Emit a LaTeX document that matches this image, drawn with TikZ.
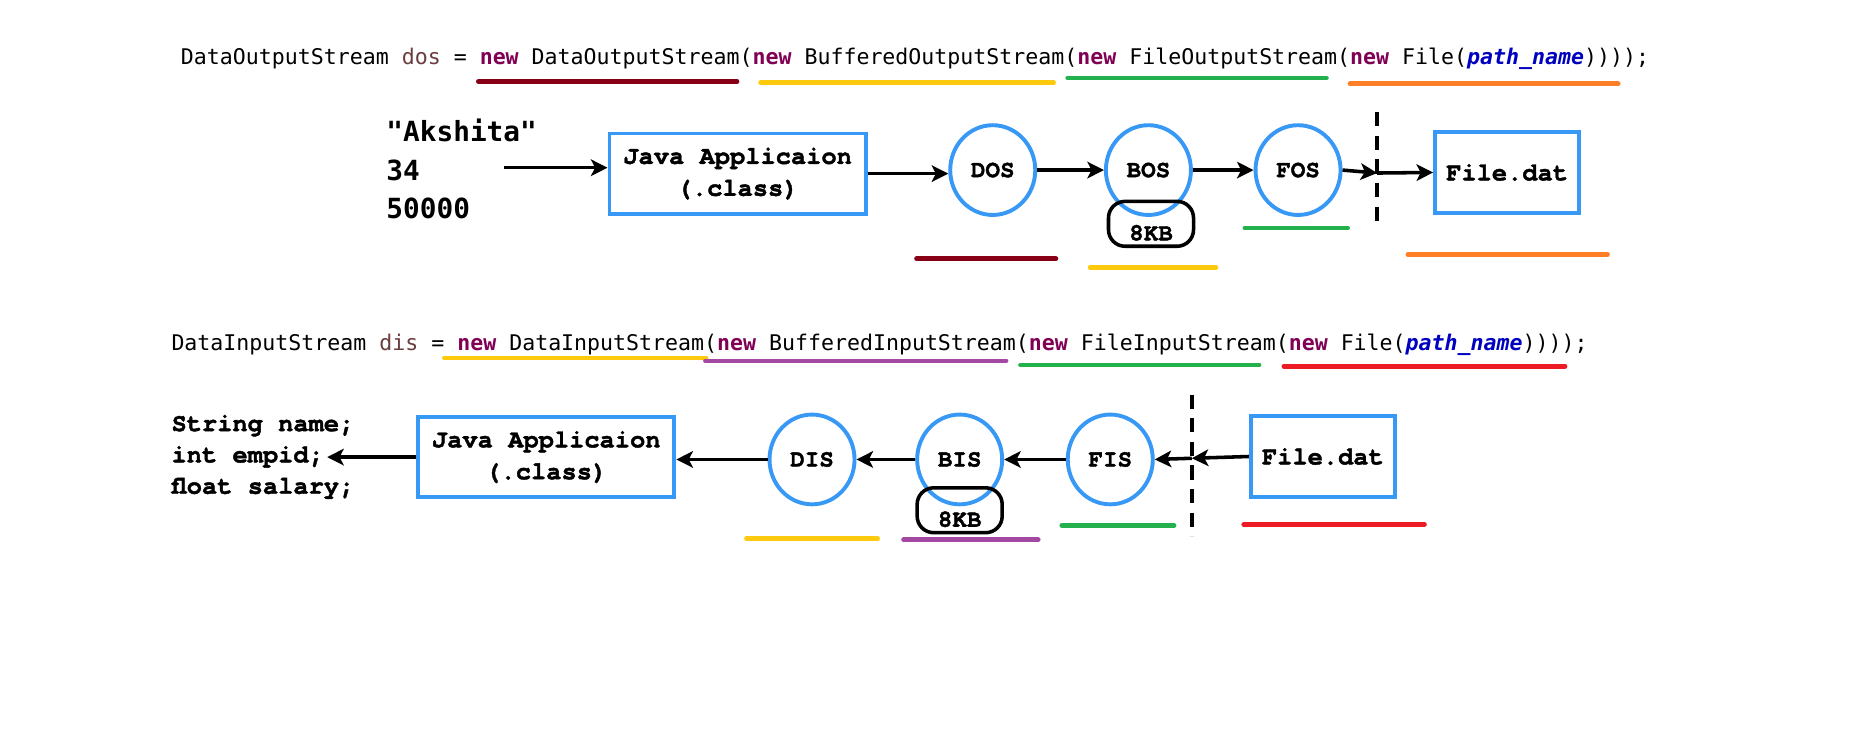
\documentclass[tikz,border=0pt]{standalone}
\usepackage{fontspec}
\usetikzlibrary{shapes.geometric,arrows.meta}
\newfontfamily\codefont{DejaVu Sans Mono}
\newfontfamily\valfont{DejaVu Sans Mono}
\newfontfamily\diafont{TeX Gyre Cursor}[BoldFeatures={FakeBold=1.6}]
\definecolor{jblue}{RGB}{55,152,245}
\definecolor{kwc}{RGB}{127,0,85}
\definecolor{varc}{RGB}{106,62,62}
\definecolor{argc}{RGB}{0,0,192}
\definecolor{ulred}{RGB}{136,0,21}
\definecolor{ulyellow}{RGB}{255,201,14}
\definecolor{ulgreen}{RGB}{34,177,76}
\definecolor{ulorange}{RGB}{255,127,39}
\definecolor{ulpurple}{RGB}{163,73,164}
\definecolor{ulbright}{RGB}{237,28,36}
\newcommand\kwnew{\textcolor{kwc}{\bfseries new}}
\newcommand\pname{\textcolor{argc}{\bfseries\itshape path\_name}}
\tikzset{
  code/.style={font=\codefont\fontsize{18.27}{20}\selectfont, anchor=base west, inner sep=0pt},
  vals/.style={font=\valfont\bfseries\fontsize{23.5}{26}\selectfont, anchor=base west, inner sep=0pt},
  decl/.style={font=\diafont\bfseries\fontsize{21.5}{24}\selectfont, anchor=base west, inner sep=0pt},
  appbox/.style={draw=jblue, line width=3.3pt, rectangle, minimum width=217pt, minimum height=68pt,
    inner sep=0pt, align=center, font=\diafont\bfseries\fontsize{21.5}{27}\selectfont},
  filebox/.style={draw=jblue, line width=3.3pt, rectangle, minimum width=122pt, minimum height=68pt,
    inner sep=0pt, font=\diafont\bfseries\fontsize{21.5}{24}\selectfont},
  strm/.style={draw=jblue, line width=3.3pt, ellipse, minimum width=72pt, minimum height=76pt,
    inner sep=0pt, font=\diafont\bfseries\fontsize{20.5}{22}\selectfont},
  kb/.style={draw=black, line width=3pt, rounded corners=14pt, rectangle, minimum width=72pt,
    inner xsep=0pt, inner ysep=0pt, text height=33pt, text depth=5pt,
    font=\diafont\bfseries\fontsize{20.5}{22}\selectfont},
  arr/.style={line width=3pt, -{Stealth[length=14pt,width=14pt,inset=3.5pt]}},
  sepline/.style={line width=3.5pt, dash pattern=on 12pt off 8pt},
  ul/.style={line width=4pt, line cap=round},
}
\begin{document}
\begin{tikzpicture}[x=1pt,y=-1pt]
\fill[white] (0,0) rectangle (1568,629);

% ---------- top code line ----------
\node[code] (codeA) at (153,54.5) {DataOutputStream \textcolor{varc}{dos} = \kwnew{} DataOutputStream(\kwnew{} BufferedOutputStream(\kwnew{} FileOutputStream(\kwnew{} File(\pname))));};
\draw[ul, ulred]    (405,69) coordinate (ua1) -- (624,69) coordinate (ua2);
\draw[ul, ulyellow] (644,70) coordinate (ua3) -- (892,70) coordinate (ua4);
\draw[ul, ulgreen]  (904,66) coordinate (ua5) -- (1123,66) coordinate (ua6);
\draw[ul, ulorange] (1143,71) coordinate (ua7) -- (1370,71) coordinate (ua8);

% ---------- top diagram ----------
\node[vals] (v1) at (327,119.5) {"Akshita"};
\node[vals] (v2) at (327,153) {34};
\node[vals] (v3) at (327,185) {50000};
\coordinate (in1) at (427,142);
\node[appbox] (javaA) at (624.5,147) {Java Applicaion\\(.class)};
\node[strm] (dos) at (840.5,144) {DOS};
\node[strm] (bos) at (972.3,144) {BOS};
\node[kb] (kbA) at (974.5,189.5) {8KB};
\node[strm] (fos) at (1099,144) {FOS};
\coordinate (sepAt) at (1166,95);
\coordinate (sepAb) at (1166,194);
\coordinate (xA) at (1166,146.5);
\node[filebox] (fileA) at (1276,146) {File.dat};

\draw[arr] (in1) -- (in1 -| javaA.west);
\draw[arr] (javaA.east) -- (javaA.east -| dos.west);
\draw[arr] (dos.east) -- (bos.west);
\draw[arr] (bos.east) -- (fos.west);
\draw[arr] (fos.east) -- (xA);
\draw[arr] (xA) -- (fileA.west);
\draw[sepline] (sepAt) -- (sepAb);

\draw[ul, ulred]    (776,219) coordinate (da1) -- (894,219) coordinate (da2);
\draw[ul, ulyellow] (923,226.5) coordinate (da3) -- (1029.5,226.5) coordinate (da4);
\draw[ul, ulgreen]  (1054,193) coordinate (da5) -- (1141,193) coordinate (da6);
\draw[ul, ulorange] (1192,215.5) coordinate (da7) -- (1361,215.5) coordinate (da8);

% ---------- bottom code line ----------
\node[code] (codeB) at (145,296.6) {DataInputStream \textcolor{varc}{dis} = \kwnew{} DataInputStream(\kwnew{} BufferedInputStream(\kwnew{} FileInputStream(\kwnew{} File(\pname))));};
\draw[ul, line width=3.5pt, ulyellow] (376,303) coordinate (ub1) -- (598,303) coordinate (ub2);
\draw[ul, line width=3.5pt, ulpurple] (597,305.5) coordinate (ub3) -- (852,305.5) coordinate (ub4);
\draw[ul, ulgreen]  (864,309) coordinate (ub5) -- (1066,309) coordinate (ub6);
\draw[ul, ulbright] (1087,310) coordinate (ub7) -- (1325,310) coordinate (ub8);

% ---------- bottom diagram ----------
\node[decl] (s1) at (145,365) {String name;};
\node[decl] (s2) at (145,391.5) {int empid;};
\node[decl] (s3) at (145,418) {float salary;};
\coordinate (out1) at (277,387);
\node[appbox] (javaB) at (462.5,387) {Java Applicaion\\(.class)};
\node[strm] (dis) at (687.5,389) {DIS};
\node[strm] (bis) at (812.5,389) {BIS};
\node[kb] (kbB) at (812.5,432) {8KB};
\node[strm] (fis) at (940,389) {FIS};
\coordinate (sepBt) at (1009,334);
\coordinate (sepBb) at (1009,454);
\coordinate (xB) at (1009,388);
\node[filebox] (fileB) at (1120,386.5) {File.dat};

\draw[arr] (fileB.west) -- (xB);
\draw[arr] (xB) -- (fis.east);
\draw[arr] (fis.west) -- (bis.east);
\draw[arr] (bis.west) -- (dis.east);
\draw[arr] (dis.west) -- (dis.west -| javaB.east);
\draw[arr] (javaB.west) -- (out1);
\draw[sepline] (sepBt) -- (sepBb);

\draw[ul, ulyellow] (632,456) coordinate (db1) -- (743,456) coordinate (db2);
\draw[ul, ulpurple] (765,457) coordinate (db3) -- (879,457) coordinate (db4);
\draw[ul, ulgreen]  (899,444.8) coordinate (db5) -- (994,444.8) coordinate (db6);
\draw[ul, ulbright] (1053,444) coordinate (db7) -- (1206,444) coordinate (db8);
\end{tikzpicture}
\end{document}
